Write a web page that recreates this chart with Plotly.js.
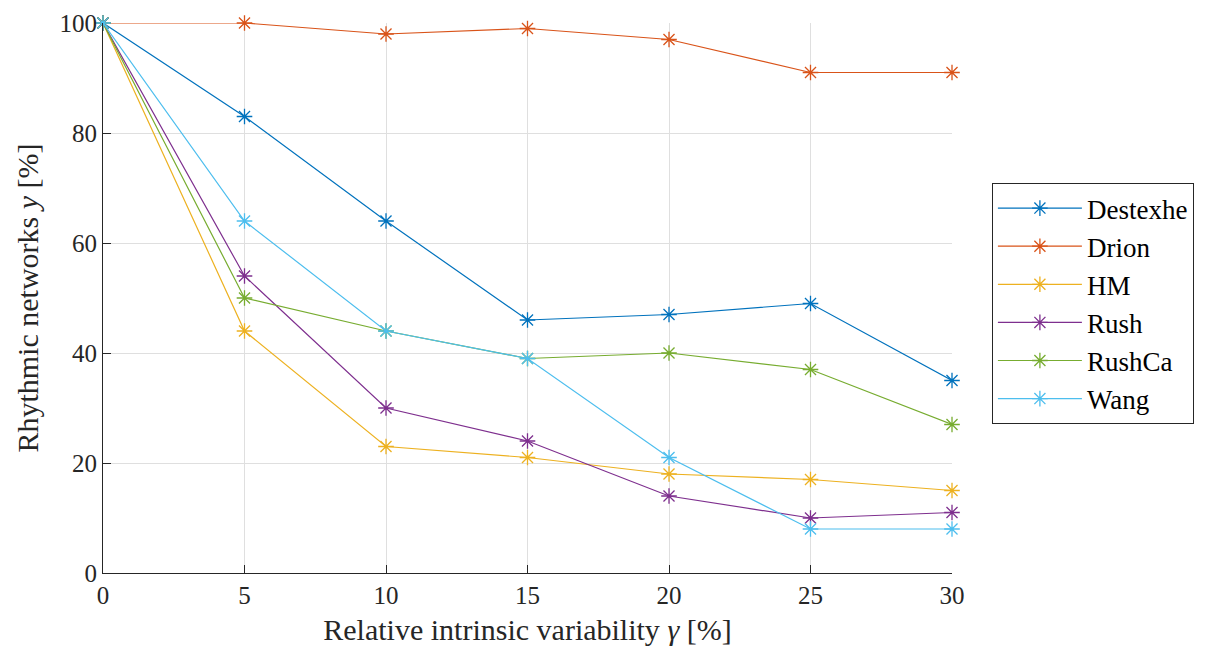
<!DOCTYPE html>
<html><head><meta charset="utf-8">
<script src="https://cdn.plot.ly/plotly-3.0.1.min.js"></script>
<style>html,body{margin:0;padding:0;background:#fff}</style>
</head><body>
<div id="chart" style="width:1220px;height:655px"></div>
<script>
const xValues = [0, 5, 10, 15, 20, 25, 30];
const seriesNames = ["Destexhe", "Drion", "HM", "Rush", "RushCa", "Wang"];
const destexhe = [100, 83, 64, 46, 47, 49, 35];
const drion = [100, 100, 98, 99, 97, 91, 91];
const hm = [100, 44, 23, 21, 18, 17, 15];
const rush = [100, 54, 30, 24, 14, 10, 11];
const rushCa = [100, 50, 44, 39, 40, 37, 27];
const wang = [100, 64, 44, 39, 21, 8, 8];
const xTicks = [0, 5, 10, 15, 20, 25, 30];
const yTicks = [0, 20, 40, 60, 80, 100];
const colors = ["#0072BD", "#D95319", "#EDB120", "#7E2F8E", "#77AC30", "#4DBEEE"];
const seriesValues = [destexhe, drion, hm, rush, rushCa, wang];

const FONT = "Liberation Serif, DejaVu Serif, serif";
const traces = seriesValues.map((ys, i) => ({
  x: xValues, y: ys, name: seriesNames[i], type: "scatter", mode: "lines+markers",
  line: {color: colors[i], width: 1.2},
  marker: {symbol: "asterisk-open", size: 13, color: colors[i], line: {color: colors[i], width: 1.3}},
  cliponaxis: false
}));

const layout = {
  width: 1220, height: 655,
  margin: {l: 103, r: 268, t: 23, b: 82},
  paper_bgcolor: "#fff", plot_bgcolor: "#fff",
  font: {family: FONT, color: "#262626", size: 25},
  showlegend: true,
  legend: {x: 1.047, y: 0.709, xanchor: "left", yanchor: "top",
    bordercolor: "#262626", borderwidth: 1, bgcolor: "#fff",
    font: {family: FONT, size: 27, color: "#000"}, itemwidth: 84},
  xaxis: {
    range: [0, 30], tickvals: xTicks, ticktext: xTicks.map(String),
    showline: true, linecolor: "#262626", linewidth: 1, mirror: false,
    ticks: "inside", ticklen: 8, tickcolor: "#262626",
    showgrid: true, gridcolor: "#dfdfdf", zeroline: false,
    tickfont: {family: FONT, size: 25, color: "#262626"},
    title: {text: "Relative intrinsic variability <i>γ</i> [%]", font: {family: FONT, size: 30, color: "#262626"}, standoff: 10}
  },
  yaxis: {
    range: [0, 100], tickvals: yTicks, ticktext: yTicks.map(String),
    showline: true, linecolor: "#262626", linewidth: 1, mirror: false,
    ticks: "inside", ticklen: 8, tickcolor: "#262626",
    showgrid: true, gridcolor: "#dfdfdf", zeroline: false,
    tickfont: {family: FONT, size: 25, color: "#262626"},
    title: {text: "Rhythmic networks <i>y</i> [%]", font: {family: FONT, size: 30, color: "#262626"}, standoff: 12}
  }
};
Plotly.newPlot("chart", traces, layout, {displayModeBar: false, staticPlot: true});
</script>
</body></html>
